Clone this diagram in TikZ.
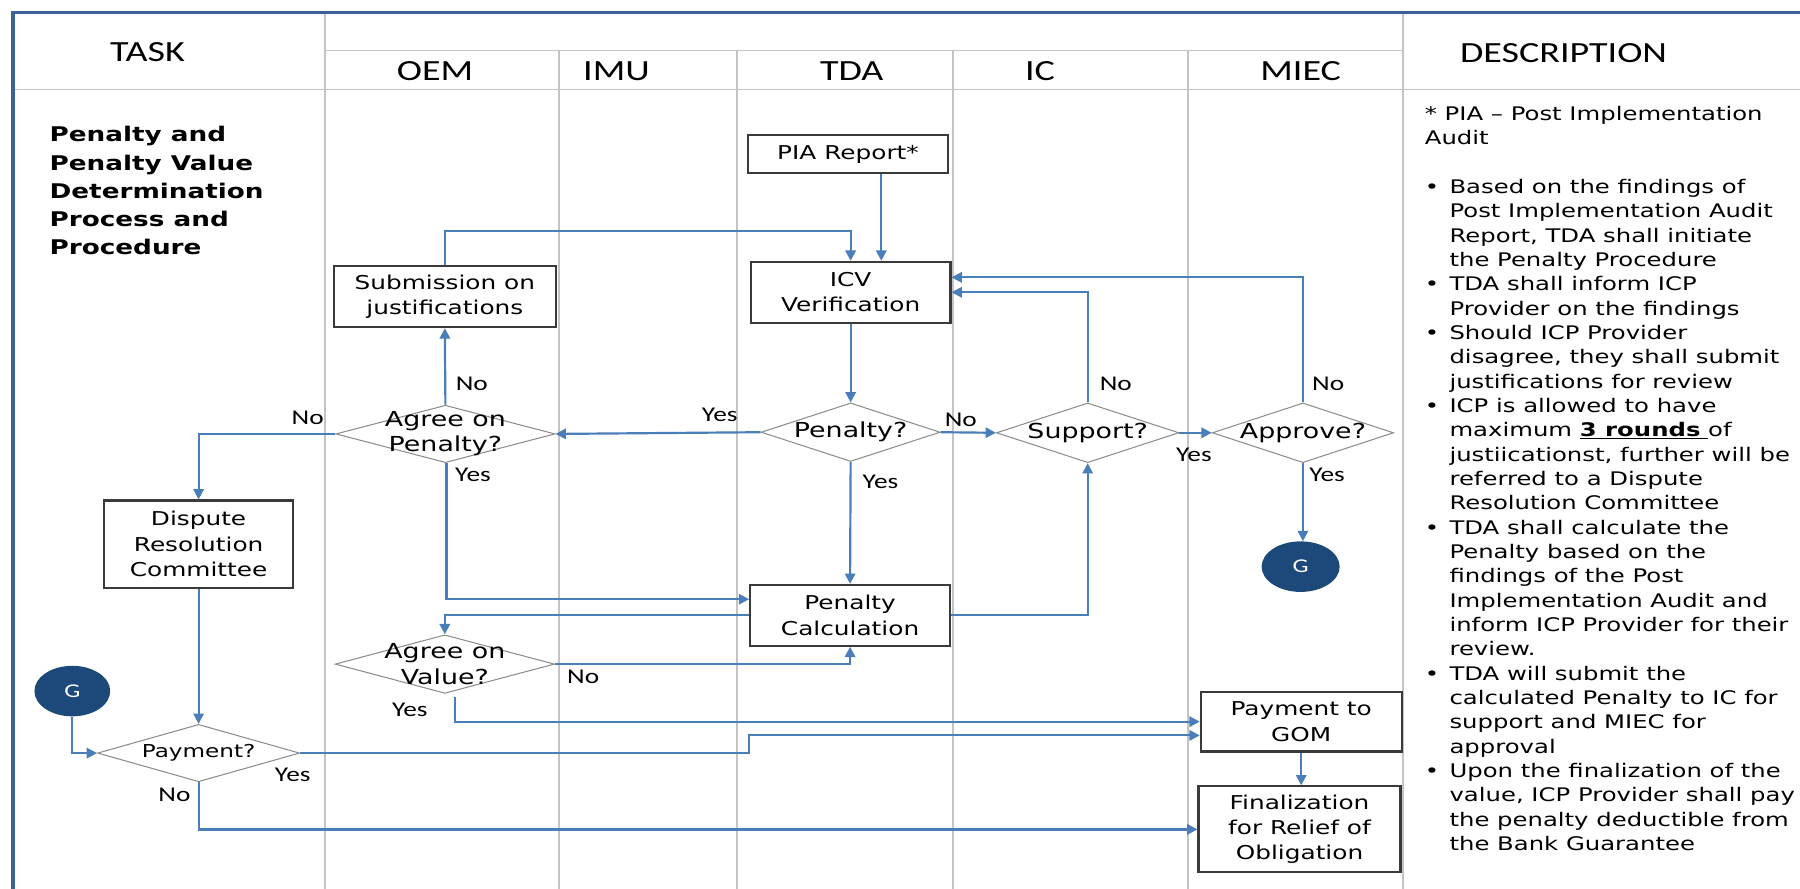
\documentclass[tikz,border=0pt]{standalone}
\usepackage{fontspec}
\setmainfont{DejaVu Sans}[FakeStretch=1.3]
\newfontfamily\hdfont{Carlito}[FakeStretch=1.3]
\usetikzlibrary{shapes.geometric,arrows.meta}
\definecolor{lineblue}{RGB}{74,126,187}
\definecolor{boxline}{RGB}{58,58,58}
\definecolor{diagray}{RGB}{140,140,140}
\definecolor{gridgray}{RGB}{196,196,196}
\definecolor{bordblue}{RGB}{61,96,150}
\definecolor{gnavy}{RGB}{28,72,122}
\newcommand\bodyfs{\fontsize{16.3}{21.2}\selectfont}
\newcommand\boxfs{\fontsize{16.6}{22}\selectfont}
\newcommand\diafs{\fontsize{18}{22}\selectfont}
\newcommand\payfs{\fontsize{15.5}{20}\selectfont}
\newcommand\titlefs{\fontsize{17.6}{24.6}\selectfont}
\newcommand\hdfs{\hdfont\fontsize{25.5}{28}\selectfont}
\newcommand\lblfs{\hdfont\fontsize{18.3}{22}\selectfont}
\begin{document}
\begin{tikzpicture}[x=1pt,y=-1pt,
  box/.style={draw=boxline, line width=1.8pt, fill=white, align=center, inner sep=0pt, font=\boxfs},
  dia/.style={diamond, draw=diagray, line width=0.9pt, inner sep=0pt, fill=white},
  dtext/.style={align=center, font=\diafs, inner sep=0pt},
  conn/.style={draw=lineblue, line width=1.9pt, -{Triangle[length=9pt,width=9pt]}},
  lbl/.style={font=\lblfs, inner sep=0pt},
  hd/.style={font=\hdfs, inner sep=0pt},
  gnode/.style={ellipse, fill=gnavy, text=white, font=\hdfont\fontsize{17}{20}\selectfont, inner sep=0pt},
  grid/.style={draw=gridgray, line width=1.4pt}]
\useasboundingbox (0,0) rectangle (1568,774.4);
\fill[white] (0,0) rectangle (1568,774.4);
% grid
\draw[grid] (283,11) -- (283,774.4);
\draw[grid] (1222,11) -- (1222,774.4);
\draw[grid] (283,44) -- (1222,44);
\draw[grid] (11,78) -- (1568,78);
\foreach \x in {487,642,830,1035} \draw[grid] (\x,44) -- (\x,774.4);
% border
\draw[bordblue, line width=3pt] (11.5,774.4) -- (11.5,11) -- (1568,11);
% headers
\node[hd] (hTask) at (128.5,45) {TASK};
\node[hd] (hOEM) at (379,62) {OEM};
\node[hd] (hIMU) at (537,62) {IMU};
\node[hd] (hTDA) at (742,62) {TDA};
\node[hd] (hIC) at (906,62) {IC};
\node[hd] (hMIEC) at (1133,62) {MIEC};
\node[hd] (hDesc) at (1362,46) {DESCRIPTION};
% title
\node[anchor=north west, inner sep=0pt, font=\titlefs\bfseries] (title) at (43,106.2) {%
\begin{tabular}{@{}l@{}}Penalty and\\Penalty Value\\Determination\\Process and\\Procedure\end{tabular}};
% description
\node[anchor=north west, inner sep=0pt, font=\bodyfs] (desc) at (1241,89.8) {%
\begin{tabular}{@{}l@{\hspace{9pt}}l@{}}
\multicolumn{2}{@{}l@{}}{* PIA – Post Implementation}\\
\multicolumn{2}{@{}l@{}}{Audit}\\
 & \\
• & Based on the findings of\\
  & Post Implementation Audit\\
  & Report, TDA shall initiate\\
  & the Penalty Procedure\\
• & TDA shall inform ICP\\
  & Provider on the findings\\
• & Should ICP Provider\\
  & disagree, they shall submit\\
  & justifications for review\\
• & ICP is allowed to have\\
  & maximum \underline{\textbf{3 rounds}\ }of\\
  & justiicationst, further will be\\
  & referred to a Dispute\\
  & Resolution Committee\\
• & TDA shall calculate the\\
  & Penalty based on the\\
  & findings of the Post\\
  & Implementation Audit and\\
  & inform ICP Provider for their\\
  & review.\\
• & TDA will submit the\\
  & calculated Penalty to IC for\\
  & support and MIEC for\\
  & approval\\
• & Upon the finalization of the\\
  & value, ICP Provider shall pay\\
  & the penalty deductible from\\
  & the Bank Guarantee
\end{tabular}};
% nodes
\node[box, minimum width=174, minimum height=33] (pia) at (738.7,134.2) {PIA Report*};
\node[box, minimum width=174, minimum height=53] (icv) at (741,254.6) {ICV\\Verification};
\node[box, minimum width=193, minimum height=53] (sub) at (387.5,258.5) {Submission on\\justifications};
\node[box, minimum width=164, minimum height=76] (drc) at (173,474) {Dispute\\Resolution\\Committee};
\node[box, minimum width=174, minimum height=53] (pcalc) at (740.5,536) {Penalty\\Calculation};
\node[box, minimum width=175, minimum height=52] (pgom) at (1133.5,628.6) {Payment to\\GOM};
\node[box, minimum width=176, minimum height=75] (fin) at (1132,722.5) {Finalization\\for Relief of\\Obligation};
\node[dia, minimum width=191, minimum height=50, label={[dtext, name=agpT]center:Agree on\\Penalty?}] (agp) at (388,378) {};
\node[dia, minimum width=156, minimum height=51, label={[dtext, name=penT]center:Penalty?}] (pen) at (741,376.5) {};
\node[dia, minimum width=159, minimum height=52, label={[dtext, name=supT]center:Support?}] (sup) at (947.5,377) {};
\node[dia, minimum width=158, minimum height=52, label={[dtext, name=appT]center:Approve?}] (app) at (1135,377) {};
\node[dia, minimum width=191, minimum height=51, label={[dtext, name=agvT]center:Agree on\\Value?}] (agv) at (387.5,578.5) {};
\node[dia, minimum width=176, minimum height=50, label={[dtext, font=\payfs, name=payT]center:Payment?}] (pay) at (173,656) {};
\node[gnode, minimum width=68, minimum height=44] (g1) at (1133,493.6) {G};
\node[gnode, minimum width=66, minimum height=44] (g2) at (63,602) {G};
% connectors
\draw[conn] ([xshift=29]pia.south) -- ([xshift=29]pia.south |- icv.north);
\draw[conn] (sub.north) -- ++(0,-30) -| (icv.north);
\draw[conn] (icv.south) -- (pen.north);
\draw[conn] (pen.west) -- (agp.east);
\draw[conn] (pen.east) -- (sup.west);
\draw[conn] (pen.south) -- (pcalc.north);
\draw[conn] (sup.north) |- (icv.east);
\draw[conn] (app.north) |- ([yshift=13]icv.east);
\draw[conn] (sup.east) -- (app.west);
\draw[conn] (app.south) -- (app.south |- g1.north);
\draw[conn] (agp.north) -- (sub.south);
\draw[conn] (agp.west) -| (drc.north);
\draw[conn] ([xshift=1]agp.south) |- ([yshift=14]pcalc.west);
\draw[conn] (pcalc.west) -| (agv.north);
\draw[conn] (agv.east) -| (pcalc.south);
\draw[conn] (pcalc.east) -| (sup.south);
\draw[conn] ([xshift=8.5,yshift=-3]agv.south) |- (pgom.west);
\draw[conn] (pay.east) -- (pay.east -| pcalc.west) |- ([yshift=-12]pgom.west);
\draw[conn] (pay.south) |- (fin.west);
\draw[conn] (drc.south) -- (pay.north);
\draw[conn] (g2.south) |- (pay.west);
\draw[conn] (pgom.south) -- (pgom.south |- fin.north);
% connector labels
\node[lbl] (l1) at (627,361) {Yes};
\node[lbl] (l2) at (837,366) {No};
\node[lbl] (l3) at (972,334) {No};
\node[lbl] (l4) at (767,420) {Yes};
\node[lbl] (l5) at (1040,396) {Yes};
\node[lbl] (l6) at (1157,334) {No};
\node[lbl] (l7) at (1156,414) {Yes};
\node[lbl] (l8) at (411,334) {No};
\node[lbl] (l9) at (268,364) {No};
\node[lbl] (l10) at (412,414) {Yes};
\node[lbl] (l11) at (508,589.5) {No};
\node[lbl] (l12) at (357,618) {Yes};
\node[lbl] (l13) at (255,675) {Yes};
\node[lbl] (l14) at (152,692) {No};
\end{tikzpicture}
\end{document}
